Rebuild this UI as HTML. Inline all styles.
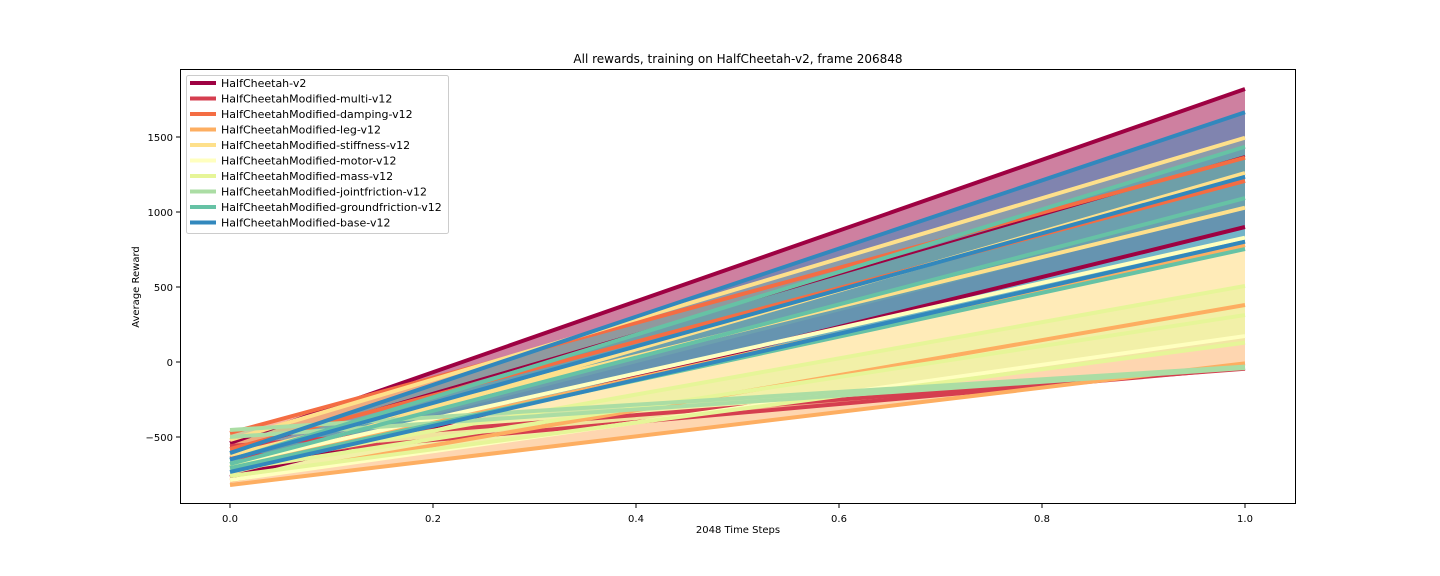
<!DOCTYPE html>
<html><head><meta charset="utf-8"><style>
body{margin:0;background:#fff;width:1440px;height:576px;overflow:hidden;font-family:"Liberation Sans","DejaVu Sans",sans-serif}
svg{display:block}
text{font-family:"DejaVu Sans","Liberation Sans",sans-serif}
</style></head><body>
<svg id="chart" width="1440" height="576"></svg>
<script>
const seriesNames=["HalfCheetah-v2","HalfCheetahModified-multi-v12","HalfCheetahModified-damping-v12","HalfCheetahModified-leg-v12","HalfCheetahModified-stiffness-v12","HalfCheetahModified-motor-v12","HalfCheetahModified-mass-v12","HalfCheetahModified-jointfriction-v12","HalfCheetahModified-groundfriction-v12","HalfCheetahModified-base-v12"];
const colors=["#9e0142","#d53e4f","#f46d43","#fdae61","#fee08b","#ffffbf","#e6f598","#abdda4","#66c2a5","#3288bd"];
const startValues=[[-540,-600,-767],[-560,-640],[-473,-580],[-820,-790,-700],[-520,-700,-620],[-787,-680],[-760,-720,-700],[-453,-500],[-653,-680,-707],[-607,-650,-733]];
const endValues=[[1820,1373,900],[-45,-40],[1362,1207],[-9,380,780],[1495,1260,1029],[173,829],[129,313,507],[-31,-40],[1435,1093,753],[1665,1235,802]];
const xTicks=[0,0.2,0.4,0.6,0.8,1.0];
const yTicks=[-500,0,500,1000,1500];
const NS="http://www.w3.org/2000/svg";
const svg=document.getElementById("chart");
const L=180,R=1296,T=69,B=504;
const xs=v=>230+(v)*(1245-230);
const ys=v=>362-v*0.15;
function mk(tag,attrs,parent){const e=document.createElementNS(NS,tag);for(const k in attrs)e.setAttribute(k,attrs[k]);(parent||svg).appendChild(e);return e;}
const plot=mk("g",{});


const fills=mk("g",{},plot);


const lines=mk("g",{},plot);


seriesNames.forEach((n,i)=>{
  const a=startValues[i],b=endValues[i];
  const x0=xs(0),x1=xs(1);
  const pts=`${x0},${ys(Math.max(...a))} ${x1},${ys(Math.max(...b))} ${x1},${ys(Math.min(...b))} ${x0},${ys(Math.min(...a))}`;
  const f=mk("polygon",{points:pts,fill:colors[i],"fill-opacity":0.5},fills);
  
  
});
seriesNames.forEach((n,i)=>{
  const a=startValues[i],b=endValues[i];
  const x0=xs(0),x1=xs(1);
  a.forEach((v,j)=>{
    const w=(i===0&&j===1)?2:4;
    const l=mk("line",{x1:x0,y1:ys(v),x2:x1,y2:ys(b[j]),stroke:colors[i],"stroke-width":w},lines);
    
    
  });
});
const frame=mk("rect",{x:L+0.5,y:T+0.5,width:R-L-1,height:B-T-1,fill:"none",stroke:"#000","stroke-width":1});


xTicks.forEach(t=>{
  const x=xs(t);
  mk("line",{x1:x,y1:B,x2:x,y2:B+4,stroke:"#000"});
  const tx=mk("text",{x:x,y:B+18,"font-size":10,"text-anchor":"middle"});tx.textContent=t.toFixed(1);
  
  
});
yTicks.forEach(t=>{
  const y=ys(t);
  mk("line",{x1:L-4,y1:y,x2:L,y2:y,stroke:"#000"});
  const tx=mk("text",{x:L-7,y:y+4,"font-size":10,"text-anchor":"end"});tx.textContent=(t<0?"\u2212"+(-t):t);
  
  
});
const title=mk("text",{x:738,y:63,"font-size":12,"text-anchor":"middle"});title.textContent="All rewards, training on HalfCheetah-v2, frame 206848";


const xl=mk("text",{x:738,y:533,"font-size":10,"text-anchor":"middle"});xl.textContent="2048 Time Steps";


const yl=mk("text",{x:139,y:287,"font-size":10,"text-anchor":"middle",transform:"rotate(-90 139 287)"});yl.textContent="Average Reward";


const lg=mk("g",{});


mk("rect",{x:186.5,y:75.5,width:262,height:158,rx:2,fill:"#fff","fill-opacity":0.8,stroke:"#ccc"},lg);
seriesNames.forEach((n,i)=>{
  const y=83+i*15.5;
  const e=mk("g",{},lg);
  
  
  mk("line",{x1:190,y1:y,x2:216,y2:y,stroke:colors[i],"stroke-width":4},e);
  const t=mk("text",{x:221,y:y+4,"font-size":11},e);t.textContent=n;
});
</script>
</body></html>
